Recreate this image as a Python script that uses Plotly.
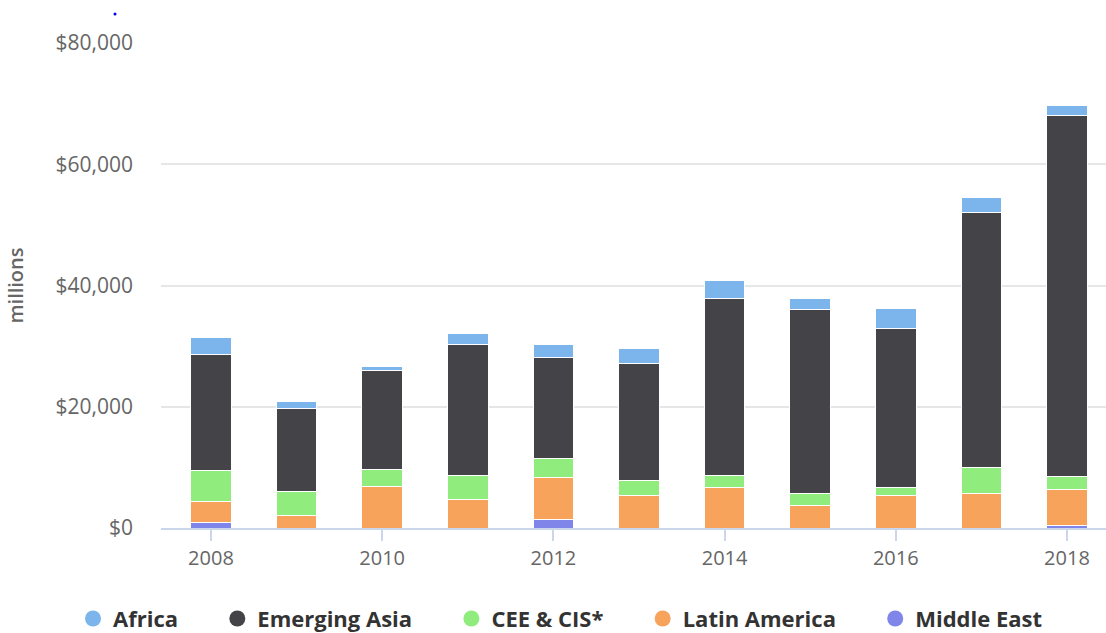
import plotly.graph_objects as go

years = [2008, 2009, 2010, 2011, 2012, 2013, 2014, 2015, 2016, 2017, 2018]
middle_east = [900, 0, 0, 0, 1480, 0, 0, 0, 0, 0, 400]
latin_america = [3550, 2030, 6860, 4780, 6870, 5380, 6600, 3680, 5380, 5660, 5900]
cee_cis = [5100, 4000, 2760, 3850, 3080, 2420, 2080, 1980, 1380, 4400, 2190]
emerging_asia = [19000, 13600, 16380, 21560, 16670, 19310, 29100, 30360, 26170, 42010, 59520]
africa = [2850, 1250, 660, 1870, 2090, 2470, 3020, 1760, 3300, 2380, 1650]

series = [
    ("Middle East", middle_east, "#8085e9"),
    ("Latin America", latin_america, "#f7a35c"),
    ("CEE & CIS*", cee_cis, "#90ed7d"),
    ("Emerging Asia", emerging_asia, "#434348"),
    ("Africa", africa, "#7cb5ec"),
]
legend_order = ["Africa", "Emerging Asia", "CEE & CIS*", "Latin America", "Middle East"]

fig = go.Figure()
for name, vals, col in series:
    fig.add_trace(go.Bar(
        x=years, y=vals, name=name, width=0.475,
        marker=dict(color=col, line=dict(color="white", width=1)),
        showlegend=False,
    ))

colors = {n: c for n, _, c in series}
pad = "\u00a0" * 6
for i, n in enumerate(legend_order):
    label = n + (pad if i < len(legend_order) - 1 else "")
    fig.add_trace(go.Scatter(
        x=[None], y=[None], mode="markers", name=label,
        marker=dict(symbol="circle", size=20, color=colors[n]),
    ))

fig.update_layout(
    width=1106, height=633,
    barmode="stack",
    paper_bgcolor="white", plot_bgcolor="white",
    margin=dict(l=161, r=0, t=43, b=105, autoexpand=False),
    font=dict(family="Open Sans", size=20, color="#666666"),
    legend=dict(
        orientation="h",
        x=-0.0931, xanchor="left", y=-0.187, yanchor="middle",
        traceorder="normal",
        font=dict(family="Open Sans", size=22, color="#333333", weight="bold"),
        itemwidth=30,
    ),
    xaxis=dict(
        range=[2007.416, 2018.456], tickmode="array",
        tickvals=[2008, 2010, 2012, 2014, 2016, 2018],
        showgrid=False, showline=True, linecolor="#ccd6eb", linewidth=2,
        ticks="outside", ticklen=11, tickcolor="#ccd6eb", tickwidth=1.5,
        tickfont=dict(size=20, color="#666666"), zeroline=False,
    ),
    yaxis=dict(
        range=[0, 80000], tickmode="array",
        tickvals=[0, 20000, 40000, 60000, 80000],
        ticktext=["$0", "$20,000", "$40,000", "$60,000", "$80,000"],
        showgrid=True, gridcolor="#e6e6e6", gridwidth=1.5, zeroline=False,
        tickfont=dict(size=21, color="#666666"), ticklabelstandoff=27,
        title=dict(text="millions", font=dict(size=20, color="#666666", weight=600), standoff=26),
    ),
    shapes=[dict(
        type="circle", xref="paper", yref="paper",
        xsizemode="pixel", ysizemode="pixel",
        xanchor=-0.0487, yanchor=1.06,
        x0=-1.5, x1=1.5, y0=-1.5, y1=1.5,
        fillcolor="#0000ee", line=dict(width=0),
    )],
)

fig.write_html("out.html")
